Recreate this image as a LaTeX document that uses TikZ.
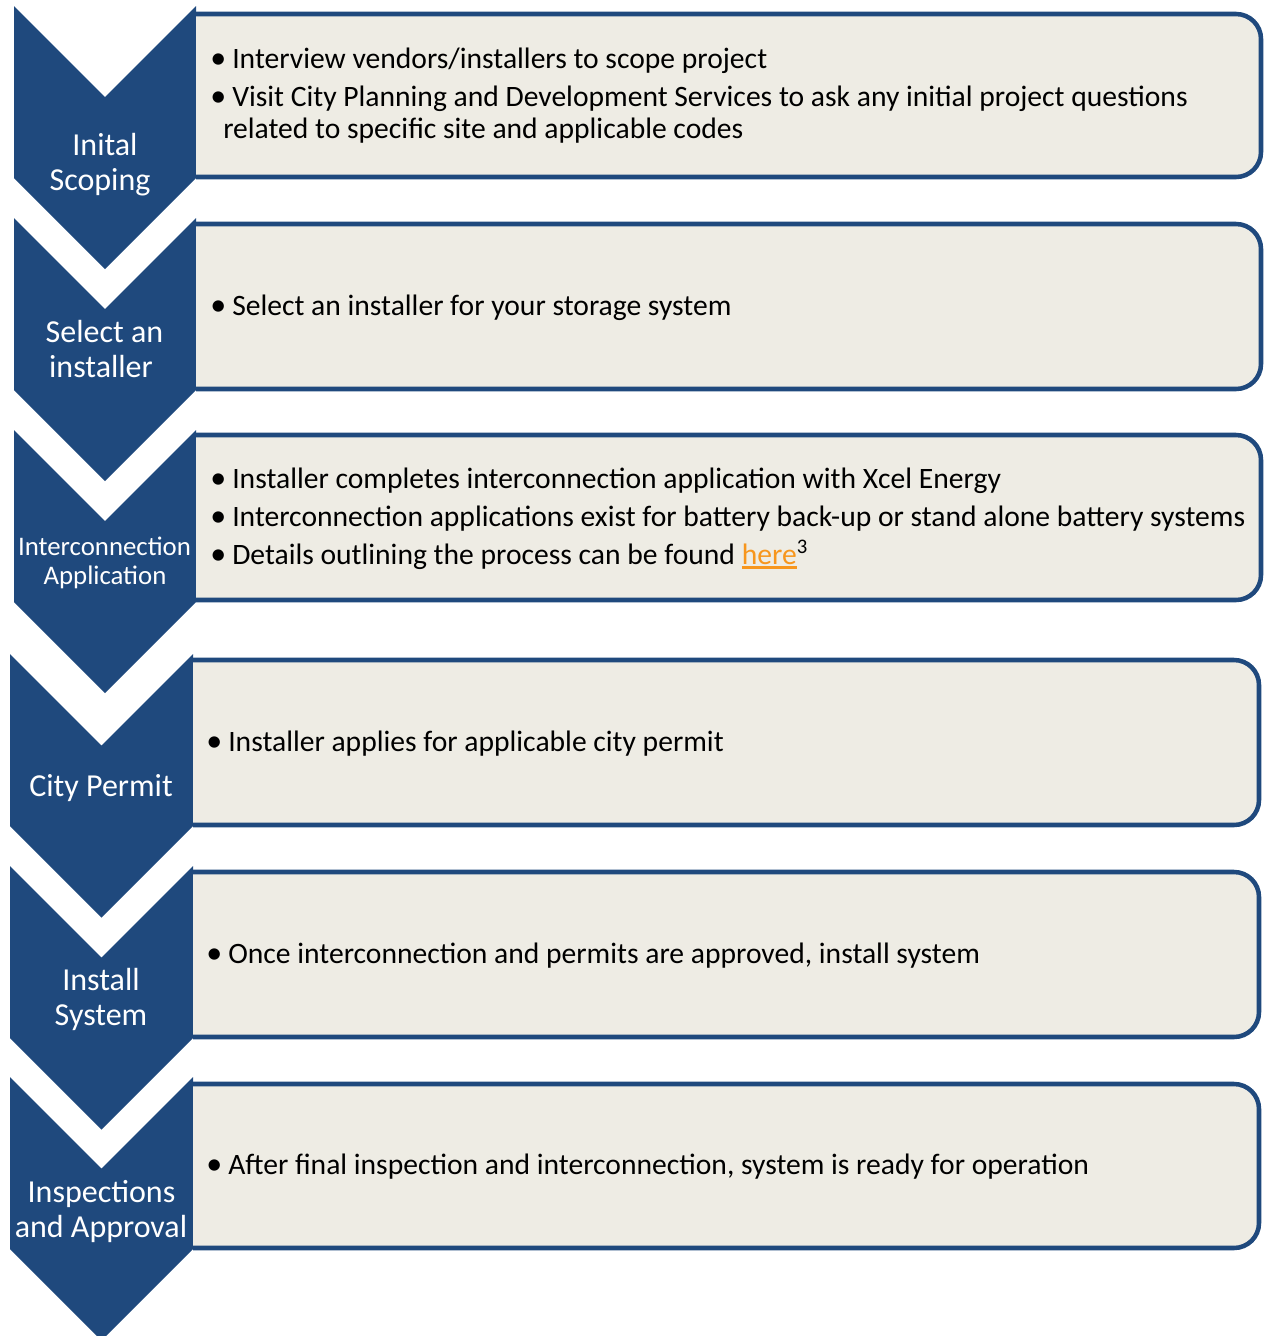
\documentclass[tikz,border=0pt]{standalone}
\usepackage{fontspec}
\setmainfont{Carlito}
\definecolor{chevblue}{RGB}{31,73,125}
\definecolor{boxfill}{RGB}{238,236,228}
\definecolor{linkorange}{RGB}{247,150,29}
\newcommand\myorul[1]{\setbox0\hbox{#1}\rlap{\rule[-3.6pt]{\wd0}{1.8pt}}\box0}
\begin{document}
\begin{tikzpicture}[x=0.75pt,y=-0.75pt,
  chev/.style={fill=chevblue},
  boxbg/.style={fill=boxfill},
  boxline/.style={draw=chevblue,line width=3.4pt,rounded corners=18.75pt},
  lbl/.style={text=white,font=\fontsize{24}{26}\selectfont,anchor=base,inner sep=0pt},
  lblsm/.style={text=white,font=\fontsize{20.1}{21.75}\selectfont,anchor=base,inner sep=0pt},
  btxt/.style={font=\fontsize{22.2}{24}\selectfont,anchor=base west,inner sep=0pt},
  bdot/.style={font=\fontsize{24}{24}\selectfont,anchor=base west,inner sep=0pt},
]
\useasboundingbox (0,0) rectangle (1265,1336);
% chevrons
\foreach \xa/\xb/\t in {14/196/6,14/196/218,14/196/430,10/193/654,10/193/866,10/193/1077}{
  \pgfmathsetmacro\xc{(\xa+\xb)/2}
  \pgfmathsetmacro\hw{(\xb-\xa)/2}
  \path[chev] (\xa,\t) -- (\xc,\t+\hw) -- (\xb,\t) -- (\xb,\t+172) -- (\xc,\t+172+\hw) -- (\xa,\t+172) -- cycle;
}
% boxes
\foreach \xa/\xb/\t/\b in {196/1261/14/177,196/1261/224/389,196/1261/435/600,193/1259/660/825,193/1259/872/1037,193/1259/1084/1248}{
  \fill[boxbg,rounded corners=18.75pt] (\xa,\t) rectangle (\xb,\b);
  \fill[boxbg] (\xa,\t) rectangle (\xa+50,\b);
  \draw[boxline] (\xa,\t) -- (\xb,\t) -- (\xb,\b) -- (\xa,\b);
}
% chevron labels
\node[lbl] (l1a) at (105,155) {Inital};
\node[lbl] (l1b) at (100,190) {Scoping};
\node[lbl] (l2a) at (104.5,342) {Select an};
\node[lbl] (l2b) at (101,377) {installer};
\node[lblsm] (l3a) at (104.5,555) {Interconnection};
\node[lblsm] (l3b) at (105,584) {Application};
\node[lbl] (l4a) at (101,796) {City Permit};
\node[lbl] (l5a) at (101,990) {Install};
\node[lbl] (l5b) at (101,1025) {System};
\node[lbl] (l6a) at (101.5,1202) {Inspections};
\node[lbl] (l6b) at (101,1237) {and Approval};
% box texts
\node[bdot] (d1a) at (210,68) {•};
\node[btxt] (t1a) at (232,68) {Interview vendors/installers to scope project};
\node[bdot] (d1b) at (210,106) {•};
\node[btxt] (t1b) at (232,106) {Visit City Planning and Development Services to ask any initial project questions};
\node[btxt] (t1c) at (223,138) {related to specific site and applicable codes};
\node[bdot] (d2a) at (210,315) {•};
\node[btxt] (t2a) at (232,315) {Select an installer for your storage system};
\node[bdot] (d3a) at (210,488) {•};
\node[btxt] (t3a) at (232,488) {Installer completes interconnection application with Xcel Energy};
\node[bdot] (d3b) at (210,526) {•};
\node[btxt] (t3b) at (232,526) {Interconnection applications exist for battery back-up or stand alone battery systems};
\node[bdot] (d3c) at (210,564) {•};
\node[btxt] (t3c) at (232,564) {Details outlining the process can be found {\color{linkorange}\myorul{here}}\textsuperscript{3}};
\node[bdot] (d4a) at (206,751) {•};
\node[btxt] (t4a) at (228,751) {Installer applies for applicable city permit};
\node[bdot] (d5a) at (206,963) {•};
\node[btxt] (t5a) at (228,963) {Once interconnection and permits are approved, install system};
\node[bdot] (d6a) at (206,1174) {•};
\node[btxt] (t6a) at (228,1174) {After final inspection and interconnection, system is ready for operation};
\end{tikzpicture}
\end{document}
